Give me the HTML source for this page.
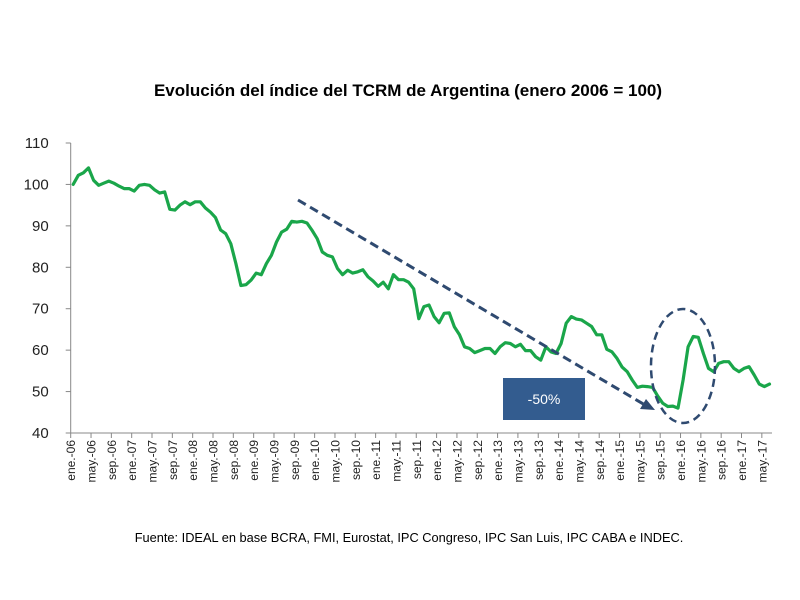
<!DOCTYPE html>
<html><head><meta charset="utf-8"><style>
html,body{margin:0;padding:0;background:#fff;}
svg{display:block;font-family:"Liberation Sans",sans-serif;}
</style></head><body>
<svg id="chart" width="800" height="600">
<text x="408" y="96" text-anchor="middle" font-size="17" font-weight="bold" fill="#000">Evolución del índice del TCRM de Argentina (enero 2006 = 100)</text>
<text x="409" y="542" text-anchor="middle" font-size="12.8" fill="#000">Fuente: IDEAL en base BCRA, FMI, Eurostat, IPC Congreso, IPC San Luis, IPC CABA e INDEC.</text>
<g id="axes"></g>
<g id="series"></g>
<g id="annot">
<line x1="298" y1="200" x2="645" y2="405" stroke="#2f4a70" stroke-width="3" stroke-dasharray="9,5"/>
<polygon points="655,410 640,409 646,399" fill="#2f4a70"/>
<ellipse cx="683" cy="366" rx="32" ry="57" fill="none" stroke="#2f4a70" stroke-width="2.5" stroke-dasharray="8,5"/>
<rect x="503" y="378" width="82" height="42" fill="#335c8f"/>
<text x="544" y="404" text-anchor="middle" font-size="14" fill="#fff">-50%</text>
</g>
</svg>
<script>
const values = [100,102.2,102.8,104,101,99.8,100.3,100.8,100.3,99.6,99,99,98.4,99.8,100,99.8,98.7,97.9,98.2,94,93.8,95,95.8,95.1,95.8,95.8,94.3,93.3,92,89,88.1,85.7,80.9,75.6,75.8,76.9,78.6,78.2,80.9,82.9,86.1,88.5,89.2,91.1,90.9,91.1,90.7,88.9,86.9,83.7,82.9,82.5,79.7,78.2,79.3,78.6,78.9,79.4,77.7,76.7,75.4,76.4,74.8,78.2,77,77,76.4,74.8,67.6,70.5,70.9,68.1,66.6,68.9,69,65.6,63.7,60.8,60.4,59.4,59.9,60.4,60.4,59.2,60.8,61.8,61.6,60.8,61.4,59.9,59.9,58.4,57.6,60.8,59.6,59.2,61.6,66.5,68.1,67.5,67.3,66.5,65.7,63.7,63.7,60.2,59.6,58,55.9,54.8,52.8,51,51.3,51.2,51,48.9,47.2,46.4,46.5,46,52.8,60.8,63.3,63.1,59.2,55.6,54.8,56.8,57.2,57.2,55.6,54.8,55.6,56,54,51.8,51.2,51.8];
const monthNames = ["ene","may","sep"];
const yTicks = [40,50,60,70,80,90,100,110];
const NS="http://www.w3.org/2000/svg";
const x0=70.7,x1=772,yTop=143,yBot=433,yMin=40,yMax=110;
const step=(x1-x0)/values.length;
const xs=i=>x0+(i+0.5)*step;
const ys=v=>yBot-(v-yMin)/(yMax-yMin)*(yBot-yTop);
const axes=document.getElementById('axes'),series=document.getElementById('series');
function mk(tag,attrs,parent){const e=document.createElementNS(NS,tag);for(const k in attrs)e.setAttribute(k,attrs[k]);parent.appendChild(e);return e;}
let e=mk('line',{x1:x0,y1:yTop,x2:x0,y2:yBot,stroke:'#888','stroke-width':1},axes);


e=mk('line',{x1:x0,y1:yBot,x2:x1,y2:yBot,stroke:'#888','stroke-width':1},axes);


yTicks.forEach(v=>{
 const t=mk('line',{x1:x0-5,x2:x0,y1:ys(v),y2:ys(v),stroke:'#888'},axes);
 
 
 const l=mk('text',{x:x0-22,y:ys(v)+5,'text-anchor':'end','font-size':15,fill:'#222'},axes);
 l.textContent=v;
 
 
});
for(let i=0;i<values.length;i+=4){
 const tx=x0+i*step;
 const t=mk('line',{x1:tx,x2:tx,y1:yBot,y2:yBot+5,stroke:'#888'},axes);
 
 
 const yr=6+Math.floor(i/12);
 const lab=monthNames[(i%12)/4]+'.-'+String(yr).padStart(2,'0');
 const cx=xs(i)+2;
 const l=mk('text',{x:cx,y:440,'text-anchor':'end','font-size':12,fill:'#222',transform:`rotate(-90 ${cx} 440)`},axes);
 l.textContent=lab;
 
 
}
const d=values.map((v,i)=>(i?'L':'M')+xs(i).toFixed(1)+' '+ys(v).toFixed(1)).join(' ');
e=mk('path',{d:d,fill:'none',stroke:'#1aa64a','stroke-width':3.2,'stroke-linejoin':'round','stroke-linecap':'round'},series);


</script>
</body></html>
